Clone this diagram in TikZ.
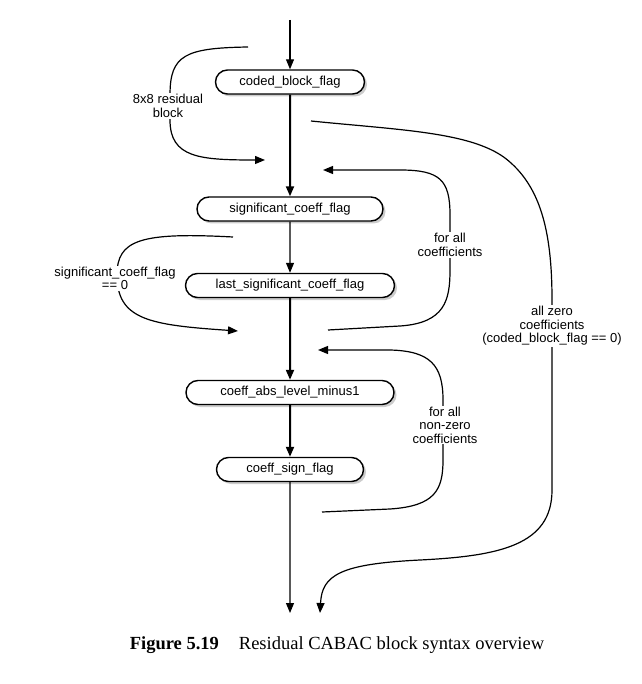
\documentclass[tikz,border=0pt]{standalone}
\usepackage{fontspec}
\setmainfont{Liberation Sans}
\newfontfamily\captionfont{Liberation Serif}
\usetikzlibrary{arrows.meta,shapes.misc,shadows}

\tikzset{
	block/.style={rounded rectangle, draw, line width=1.4pt, fill=white,
		minimum height=24pt, inner xsep=0pt,
		font=\fontsize{13}{13.5}\selectfont,
		drop shadow={shadow xshift=2.5pt, shadow yshift=-2.5pt, fill=black!40}},
	thinarrow/.style={line width=1.1pt, -{Triangle[length=10pt,width=8pt]}},
	thickarrow/.style={line width=2pt, -{Triangle[length=10pt,width=8pt]}},
	looparrow/.style={line width=1.2pt, -{Triangle[length=10pt,width=8pt]}},
	looplabel/.style={fill=white, align=center, inner sep=1pt,
		font=\fontsize{13}{13.5}\selectfont}
}

\begin{document}
\begin{tikzpicture}[x=1pt, y=-1pt]
	\useasboundingbox (0,0) rectangle (641,684);
	% Knoten
	\node[block, minimum width=149pt] (cbf) at (290,82) {coded\_block\_flag};
	\node[block, minimum width=186pt] (scf) at (290,209) {significant\_coeff\_flag};
	\node[block, minimum width=209pt] (lscf) at (290,285.5) {last\_significant\_coeff\_flag};
	\node[block, minimum width=208pt] (cal) at (290,392.5) {coeff\_abs\_level\_minus1};
	\node[block, minimum width=147pt] (csf) at (290,469.5) {coeff\_sign\_flag};
	% Hauptpfad
	\coordinate (start) at (290,20);
	\coordinate (end) at (290,613);
	\draw[thinarrow] (start) -- (cbf);
	\draw[thickarrow] (cbf) -- (scf);
	\draw[thinarrow] (scf) -- (lscf);
	\draw[thickarrow] (lscf) -- (cal);
	\draw[thickarrow] (cal) -- (csf);
	\draw[thinarrow] (csf) -- (end);
	% Schleifen links
	\coordinate (a1) at (248,47);
	\coordinate (a2) at (265,160);
	\draw[looparrow] (a1) .. controls (185,48) and (170,55) .. (170,95)
		-- (170,120) .. controls (170,158) and (200,160) .. (a2);
	\node[looplabel] (l8x8) at (168,106) {8x8 residual\\block};
	\coordinate (b1) at (233,237);
	\coordinate (b2) at (238,331);
	\draw[looparrow] (b1) .. controls (140,232) and (117,240) .. (117,275)
		.. controls (117,320) and (150,325) .. (b2);
	\node[looplabel] (lsig) at (115,278.5) {significant\_coeff\_flag\\== 0};
	% Schleifen rechts
	\coordinate (c1) at (328,330);
	\coordinate (c2) at (323,170);
	\draw[looparrow] (c1) -- (400,326) .. controls (445,323) and (450,300) .. (450,270)
		-- (450,215) .. controls (450,180) and (440,170) .. (400,170) -- (c2);
	\node[looplabel] (lall) at (450,245) {for all\\coefficients};
	\coordinate (d1) at (322,512);
	\coordinate (d2) at (318,350);
	\draw[looparrow] (d1) -- (390,509) .. controls (435,506) and (443,490) .. (443,460)
		-- (443,400) .. controls (443,365) and (430,351) .. (390,350) -- (d2);
	\node[looplabel] (lnz) at (445,425) {for all\\non-zero\\coefficients};
	\coordinate (e1) at (311,121);
	\coordinate (e2) at (320,613);
	\draw[looparrow] (e1) .. controls (400,130) and (470,132) .. (505,158)
		.. controls (540,185) and (552,230) .. (552,300) -- (552,490)
		.. controls (552,545) and (500,556) .. (420,560)
		.. controls (340,564) and (322,575) .. (e2);
	\node[looplabel] (lzero) at (552,326) {all zero\\coefficients\\(coded\_block\_flag == 0)};
	% Bildunterschrift
	\node[font=\captionfont\fontsize{18.5}{20}\selectfont] (caption) at (337,645)
		{\textbf{Figure 5.19}\hspace{20pt}Residual CABAC block syntax overview};
\end{tikzpicture}
\end{document}
